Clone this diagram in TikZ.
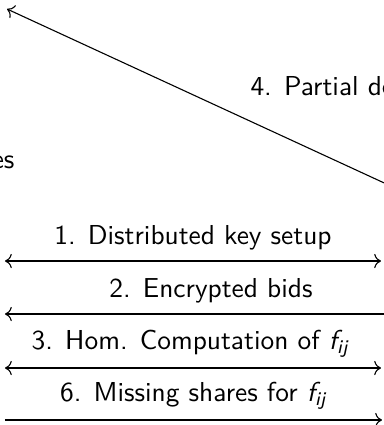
\documentclass[tikz,border=0pt]{standalone}
\usepackage{amsmath}
\usetikzlibrary{arrows.meta, positioning, calc}
\renewcommand{\familydefault}{\sfdefault}
\newcommand{\Fij}{$\text{\itshape f}_{\text{\itshape ij}}$}
\tikzset{
    msg/.style={font=\sffamily, inner sep=2pt},
    cut/.style={font=\sffamily, inner sep=0pt},
    every edge/.append style={draw, line width=0.4pt},
}

\begin{document}
\begin{tikzpicture}[x=0.365pt, y=-0.365pt]
    \useasboundingbox (0,0) rectangle (384,425);
    \clip (0,0) rectangle (384,425);

    % ends of the message lines
    \coordinate (l1) at (5,261);
    \coordinate (r1) at (381,261);
    \coordinate (l2) at (5,314);
    \coordinate (r2) at (417,314);
    \coordinate (l3) at (5,368);
    \coordinate (r3) at (381,368);
    \coordinate (l4) at (5,420);
    \coordinate (r4) at (382,420);
    \coordinate (c4) at (7,9);
    \coordinate (s4) at (458,217);

    \draw (l1) edge[<->] node[msg, above=1.7pt] {1. Distributed key setup} (r1);
    \draw (r2) edge[->] node[msg, above=1.7pt] {2. Encrypted bids} (l2);
    \draw (l3) edge[<->] node[msg, above=1.7pt, xshift=-1pt] {3. Hom. Computation of \Fij} (r3);
    \draw (l4) edge[->] node[msg, above=1.7pt] {6. Missing shares for \Fij} (r4);
    \draw (s4) edge[->] (c4);

    \node[cut, anchor=base west] (dec) at (250,95) {4. Partial de};
    \node[cut, anchor=base east] (shr) at (15,168) {es};
\end{tikzpicture}
\end{document}
